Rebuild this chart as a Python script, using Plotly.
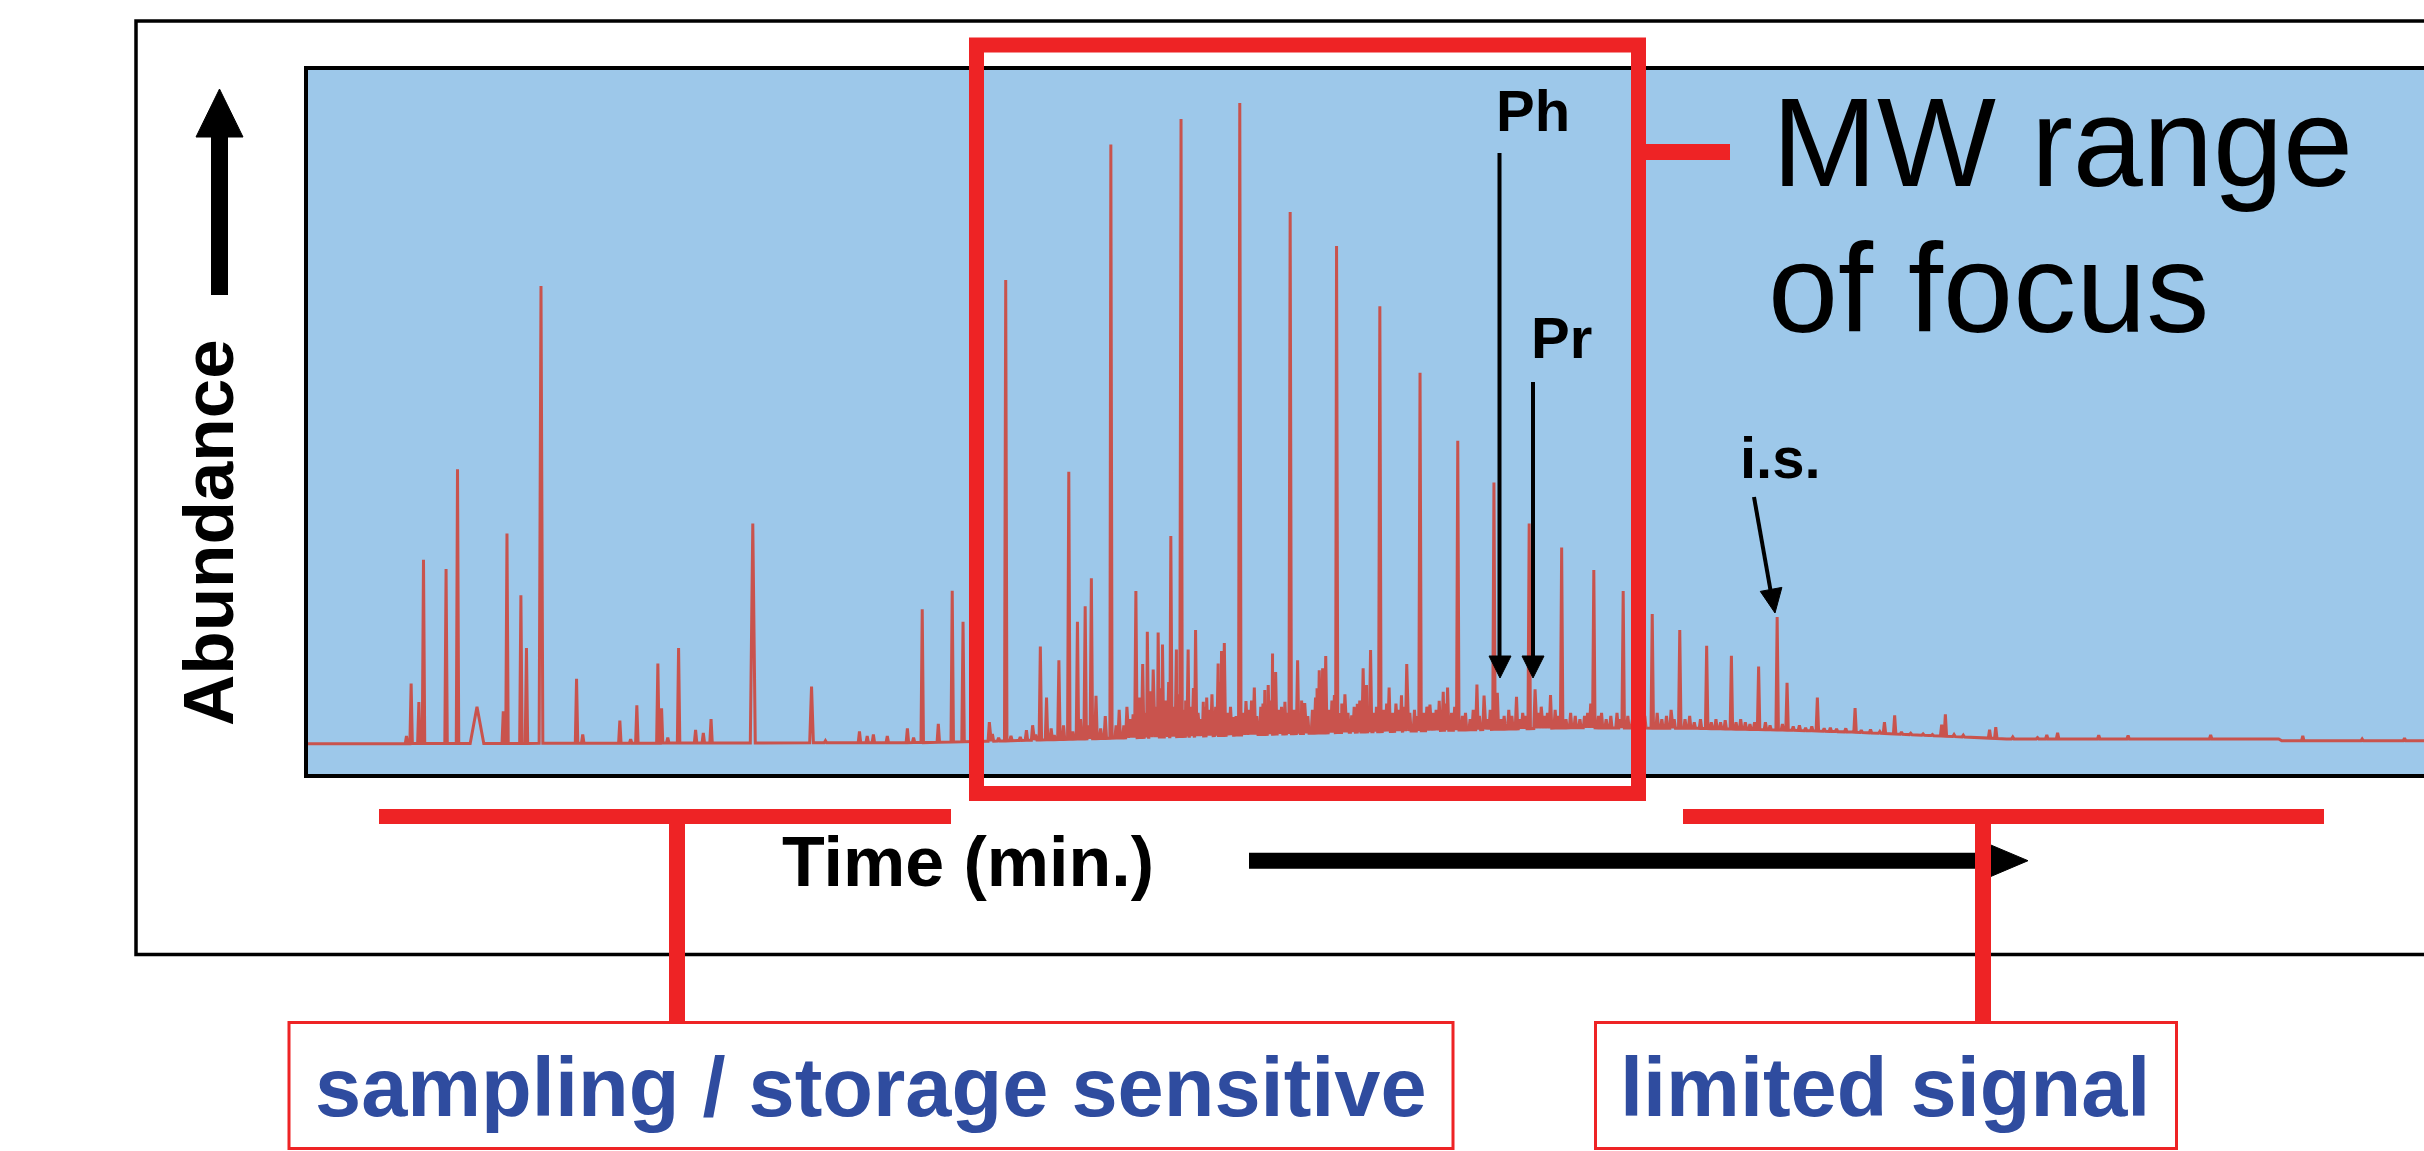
import numpy as np
import plotly.graph_objects as go

# ---------------- data (time in min, abundance in arbitrary units) ----------------
baseline_t = [0.0, 20.0, 22.0, 26.0, 30.0, 34.0, 38.0, 41.0, 45.0, 48.0, 50.0, 52.5, 55.0, 63.8, 63.9, 68.5]
baseline_a = [0.0, 0.2, 0.4, 0.9, 1.4, 1.9, 2.3, 2.6, 2.5, 2.2, 1.9, 1.35, 0.8, 0.8, 0.5, 0.5]

peak_t = [3.25, 3.40, 3.65, 3.80, 4.53, 4.90, 5.53, 6.38, 6.50, 6.95, 7.13, 7.60, 8.75, 8.95,
          10.15, 10.50, 10.70, 11.38, 11.50, 11.70, 12.05, 12.60, 12.85, 13.10, 14.45, 16.35,
          16.80, 17.90, 18.15, 18.35, 18.80, 19.45, 19.65, 19.93, 20.45, 20.90, 21.25,
          22.10, 22.63, 23.50, 23.75, 23.95, 24.35, 24.67, 24.95, 25.20, 25.40, 25.55, 26.03,
          26.45, 26.75, 26.84, 27.06, 27.21, 27.40, 27.56, 27.70, 27.97, 28.15, 28.30, 28.53,
          28.77, 29.02, 29.13, 29.50, 29.61, 29.70, 29.99, 30.20, 30.40, 30.67, 30.88, 31.01,
          31.12, 31.26, 31.36, 31.66, 31.83, 32.07, 32.30, 32.77, 32.88, 32.98, 33.26, 33.33,
          33.60, 33.82, 34.00, 34.19, 34.30, 34.43, 34.73, 35.03, 35.43, 35.60, 36.03, 36.35,
          36.65, 36.78, 36.92, 37.25, 37.87, 38.10, 38.42, 38.53, 39.15, 39.56, 39.75, 40.25,
          40.61, 41.55, 41.65, 42.60, 43.54, 44.43, 45.30, 46.10, 46.98, 47.58, 47.90, 48.88,
          50.10, 51.05, 51.38, 52.90, 53.02, 54.45, 54.65, 56.30, 56.65, 57.98, 58.93, 61.60,
          64.58, 66.50, 67.87]
peak_a = [1.25, 9.75, 6.75, 29.75, 28.25, 44.4, 6.0, 5.25, 34.0, 24.0, 15.5, 74.0, 10.5, 1.5,
          3.75, 0.75, 6.25, 13.0, 5.75, 1.0, 15.5, 2.25, 1.75, 4.0, 35.6, 9.25,
          0.5, 2.0, 1.25, 1.5, 1.25, 2.5, 1.0, 21.75, 3.25, 24.75, 19.75,
          3.5, 75.0, 3.0, 15.75, 7.5, 13.5, 44.0, 19.75, 22.25, 26.75, 7.75, 96.9,
          3.0, 4.75, 24.7, 12.9, 18.1, 12.0, 18.0, 16.05, 33.6, 15.25, 101.0, 15.25,
          18.4, 6.8, 7.5, 13.0, 15.0, 16.3, 4.35, 103.6, 6.9, 9.1, 6.0, 8.7,
          9.5, 14.6, 11.6, 6.8, 86.0, 13.5, 6.6, 11.9, 12.2, 14.2, 7.9, 80.5,
          8.0, 4.6, 6.5, 12.2, 9.5, 15.15, 70.75, 9.1, 7.85, 12.9, 60.0, 6.35,
          6.95, 8.4, 9.1, 49.0, 9.6, 7.8, 42.25, 8.25, 7.6, 35.6, 8.8, 7.9,
          31.75, 6.5, 28.1, 24.7, 21.0, 18.4, 15.85, 14.25, 12.5, 20.5, 9.85, 7.5,
          5.8, 3.5, 4.6, 3.1, 4.75, 2.3, 2.7, 1.45, 1.8, 1.4, 1.35, 1.45,
          1.3, 0.8, 0.9]

grass_t = [22.2, 22.4, 22.8, 23.1, 23.3, 23.6, 24.1, 24.2, 24.5, 24.8, 25.05, 25.3, 25.7, 25.85, 26.2, 26.3,
           26.55, 26.65, 26.95, 27.15, 27.3, 27.5, 27.65, 27.8, 27.9, 28.05, 28.2, 28.4, 28.45, 28.6,
           28.7, 28.85, 28.95, 29.07, 29.2, 29.3, 29.42, 29.55, 29.8, 29.9, 30.08, 30.3, 30.5, 30.58,
           30.75, 30.95, 31.05, 31.2, 31.3, 31.45, 31.55, 31.75,
           31.95, 32.15, 32.2, 32.4, 32.55, 32.65, 32.7, 33.1, 33.18, 33.45, 33.5, 33.7, 33.9, 34.08,
           34.35, 34.55, 34.62, 34.85, 34.95, 35.15, 35.25, 35.35, 35.5, 35.7, 35.85, 35.95, 36.15,
           36.25, 36.45, 36.55, 36.85, 37.05, 37.15,
           37.4, 37.5, 37.65, 37.75, 37.95, 38.2, 38.3, 38.65, 38.75, 38.9, 39.0, 39.25, 39.35, 39.45,
           39.85, 39.95, 40.05, 40.15, 40.4, 40.5, 40.75, 40.9, 41.05, 41.2, 41.35, 41.45, 41.8, 41.9,
           42.05, 42.2, 42.4, 42.5, 42.75, 42.9,
           43.05, 43.15, 43.3, 43.7, 43.85, 44.0, 44.15, 44.25, 44.6, 44.75, 44.9, 45.1, 45.45, 45.6,
           45.75, 45.9, 46.25, 46.4, 46.55, 46.7, 46.85, 47.2, 47.35, 47.75, 48.1, 48.3, 48.5, 48.7,
           49.1, 49.3, 49.5, 49.8, 50.3, 50.6, 50.9, 51.6, 51.9, 52.3, 52.6, 53.3, 53.6, 55.2, 56.0]
grass_a = [1.6, 1.0, 1.3, 1.1, 2.2, 1.5, 2.5, 1.4, 3.0, 2.0, 4.0, 3.0, 2.5, 4.5, 3.0, 5.5,
           6.0, 4.0, 7.5, 5.0, 8.5, 6.0, 9.0, 7.0, 10.0, 6.0, 8.0, 5.5, 7.0, 6.0,
           9.0, 5.0, 4.0, 6.0, 5.5, 8.0, 6.0, 10.0, 5.0, 6.0, 4.5, 5.0, 5.5, 7.0,
           4.5, 6.5, 5.0, 7.0, 9.0, 5.5, 6.0, 5.0,
           5.5, 5.0, 7.0, 4.5, 5.5, 7.5, 9.0, 5.5, 7.0, 5.0, 6.5, 5.0, 6.0, 7.0,
           6.0, 5.0, 6.0, 5.5, 6.5, 5.0, 6.5, 5.5, 6.0, 5.0, 5.5, 4.5, 5.0,
           6.0, 5.0, 5.5, 6.5, 5.0, 6.0,
           4.5, 5.0, 4.0, 5.5, 4.5, 4.0, 5.5, 4.0, 4.5, 5.5, 4.5, 4.0, 5.0, 4.5,
           5.0, 6.0, 4.5, 5.0, 5.5, 4.5, 4.0, 5.0, 4.5, 4.0, 4.5, 5.0, 4.5, 5.0,
           4.0, 4.5, 5.0, 4.0, 4.5, 4.0,
           5.0, 4.0, 4.5, 5.0, 4.0, 4.5, 5.5, 4.0, 4.0, 4.5, 3.5, 4.0, 3.5, 4.0,
           3.5, 3.8, 3.5, 4.0, 3.5, 3.2, 3.5, 3.5, 3.0, 3.2, 2.8, 3.0, 2.6, 2.8,
           2.5, 2.6, 2.4, 2.5, 2.2, 2.3, 2.0, 1.9, 1.7, 1.6, 1.5, 1.5, 1.4, 1.1, 1.0]

broad_peak_t = [5.53, 7.60, 14.45, 16.35]
broad_peak_hw = [0.22, 0.06, 0.08, 0.06]

x_range = [0.0, 68.5]
y_range = [-5.2, 109.26]

# ---------------- build chromatogram trace from the peak table ----------------
hw_default = 0.04
broad = dict(zip(broad_peak_t, broad_peak_hw))
pts = list(zip(baseline_t, baseline_a))
for t, a in zip(peak_t + grass_t, peak_a + grass_a):
    hw = broad.get(t, hw_default)
    for tt in (t - hw, t + hw):
        pts.append((tt, float(np.interp(tt, baseline_t, baseline_a))))
    pts.append((t, a))
pts.sort(key=lambda p: p[0])
trace_t = [p[0] for p in pts]
trace_a = [p[1] for p in pts]

# ---------------- figure ----------------
W, H = 2424, 1151
PL, PR, PT, PB = 306, 2424, 68, 776


def X(px):
    return (px - PL) / (PR - PL)


def Y(py):
    return (PB - py) / (PB - PT)


RED = "#EE2325"
BLUE_TXT = "#2F4C9F"
FONT = "Liberation Sans, Arial, sans-serif"

fig = go.Figure()
fig.add_trace(go.Scatter(x=trace_t, y=trace_a, mode="lines",
                         line=dict(color="#C9534D", width=3), hoverinfo="skip",
                         showlegend=False))

shapes = []


def line(x0, y0, x1, y1, color="black", width=4):
    shapes.append(dict(type="line", xref="paper", yref="paper",
                       x0=X(x0), y0=Y(y0), x1=X(x1), y1=Y(y1),
                       line=dict(color=color, width=width)))


def rect(x0, y0, x1, y1, color, width):
    shapes.append(dict(type="rect", xref="paper", yref="paper",
                       x0=X(x0), y0=Y(y0), x1=X(x1), y1=Y(y1),
                       line=dict(color=color, width=width),
                       fillcolor="rgba(0,0,0,0)"))


def tri(p1, p2, p3, color="black"):
    path = "M {} {} L {} {} L {} {} Z".format(X(p1[0]), Y(p1[1]), X(p2[0]), Y(p2[1]),
                                              X(p3[0]), Y(p3[1]))
    shapes.append(dict(type="path", xref="paper", yref="paper", path=path,
                       fillcolor=color, line=dict(color=color, width=1)))


# outer frame
rect(136, 21, 2700, 954.5, "black", 3.5)
# chromatogram panel borders
line(306, 66, 306, 778, width=4)
line(304, 68, 2430, 68, width=4)
line(304, 776, 2430, 776, width=4)

# abundance arrow
line(219.5, 295, 219.5, 130, width=17)
tri((196, 137), (243, 137), (219.5, 89))
# Ph / Pr arrows
line(1499.5, 153, 1499.5, 660, width=4)
tri((1489, 656), (1511, 656), (1500, 678))
line(1533, 382, 1533, 660, width=4)
tri((1522, 656), (1544, 656), (1533, 678))
# i.s. arrow
line(1754, 497, 1771, 593, width=4)
tri((1760.3, 591.4), (1781.9, 587.4), (1775, 613))
# time arrow
line(1249, 860.7, 1985, 860.7, width=16)
tri((1979, 840), (1979, 881.5), (2028, 860.7))

# red focus box and tick
rect(976.5, 45, 1638.5, 793.5, RED, 15)
line(1638, 152, 1730, 152, color=RED, width=16)
# red bars and connectors
line(379, 816.5, 951, 816.5, color=RED, width=15)
line(1683, 816.5, 2324, 816.5, color=RED, width=15)
line(677, 816, 677, 1023, color=RED, width=16)
line(1983, 816, 1983, 1023, color=RED, width=16)
# label boxes
rect(289, 1022.5, 1453, 1148.5, RED, 3)
rect(1595.5, 1022.5, 2176.5, 1148.5, RED, 3)

annotations = []


def text(s, cx, baseline, size, color="black", bold=True, anchor="center", angle=0, cy=None):
    yc = baseline - 0.3465 * size if cy is None else cy
    annotations.append(dict(text=s, xref="paper", yref="paper", x=X(cx), y=Y(yc),
                            xanchor=anchor, yanchor="middle", showarrow=False,
                            textangle=angle, borderpad=0,
                            font=dict(family=FONT, size=size, color=color,
                                      weight="bold" if bold else "normal")))


labels = ["MW range", "of focus", "Ph", "Pr", "i.s.", "Time (min.)", "Abundance",
          "sampling / storage sensitive", "limited signal"]

text(labels[0], 1771, 186, 126, bold=False, anchor="left")
text(labels[1], 1767, 332, 126, bold=False, anchor="left")
text(labels[2], 1533, 130.5, 58)
text(labels[3], 1561, 358, 58)
text(labels[4], 1780, 478, 58)
text(labels[5], 968, 886, 70)
text(labels[6], 208.4, 0, 71, angle=-90, cy=532.5)
text(labels[7], 871, 1116, 83, color=BLUE_TXT)
text(labels[8], 1884.5, 1116, 83, color=BLUE_TXT)

fig.update_layout(
    width=W, height=H,
    margin=dict(l=PL, r=W - PR, t=PT, b=H - PB, pad=0),
    paper_bgcolor="white",
    plot_bgcolor="#9DC8EA",
    xaxis=dict(range=x_range, showgrid=False, zeroline=False, showticklabels=False,
               ticks="", showline=False, fixedrange=True),
    yaxis=dict(range=y_range, showgrid=False, zeroline=False, showticklabels=False,
               ticks="", showline=False, fixedrange=True),
    shapes=shapes,
    annotations=annotations,
    showlegend=False,
)

fig.write_html("out.html", config={"displayModeBar": False},
               post_script="document.body.style.margin='0';document.body.style.overflow='hidden';")
